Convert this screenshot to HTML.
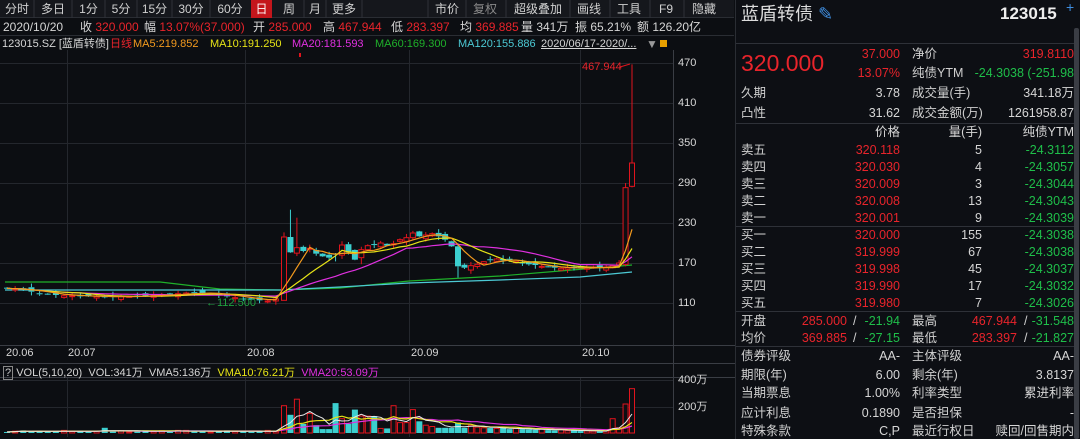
<!DOCTYPE html>
<html><head><meta charset="utf-8"><style>
*{margin:0;padding:0;box-sizing:border-box}
body{width:1080px;height:439px;background:#0c0e12;font-family:"Liberation Sans","Noto Sans CJK SC",sans-serif;color:#c8c8c8;overflow:hidden;position:relative;font-size:12px}
.a{position:absolute;white-space:nowrap;line-height:14px}
.r{color:#e8242b}.g{color:#1fbf4a}.w{color:#d6d6d6}
.tb{position:absolute;top:0;height:18px;line-height:18px;font-size:12px;color:#d0d0d0;text-align:center}
.rt{position:absolute;text-align:right;white-space:nowrap;line-height:14px;font-size:12.5px}
.lb{position:absolute;white-space:nowrap;line-height:14px;font-size:12.5px;color:#d0d0d0}
.lg{font-size:11px}
</style></head><body>
<div style="position:absolute;left:0;top:0;width:734px;height:18px;background:#15171c;border-bottom:1px solid #2a2d33"></div>
<div class="tb" style="left:0;width:34px">分时</div>
<div class="tb" style="left:34px;width:38px">多日</div>
<div class="tb" style="left:72px;width:33px">1分</div>
<div class="tb" style="left:105px;width:32px">5分</div>
<div class="tb" style="left:137px;width:35px">15分</div>
<div class="tb" style="left:172px;width:38px">30分</div>
<div class="tb" style="left:210px;width:40px">60分</div>
<div class="tb" style="left:251px;width:21px;background:#c4161c;color:#fff">日</div>
<div class="tb" style="left:274px;width:30px">周</div>
<div class="tb" style="left:304px;width:22px">月</div>
<div class="tb" style="left:326px;width:36px">更多</div>
<div class="tb" style="left:428px;width:38px">市价</div>
<div class="tb" style="left:466px;width:38px;color:#8a8a8a">复权</div>
<div class="tb" style="left:506px;width:64px">超级叠加</div>
<div class="tb" style="left:570px;width:38px">画线</div>
<div class="tb" style="left:610px;width:38px">工具</div>
<div class="tb" style="left:652px;width:28px">F9</div>
<div class="tb" style="left:684px;width:40px">隐藏</div>
<svg style="position:absolute;left:0;top:0" width="735" height="19">
<g stroke="#2e3138"><line x1="34" y1="0" x2="34" y2="18"/><line x1="72" y1="0" x2="72" y2="18"/><line x1="105" y1="0" x2="105" y2="18"/><line x1="137" y1="0" x2="137" y2="18"/><line x1="172" y1="0" x2="172" y2="18"/><line x1="210" y1="0" x2="210" y2="18"/><line x1="304" y1="0" x2="304" y2="18"/><line x1="326" y1="0" x2="326" y2="18"/><line x1="362" y1="0" x2="362" y2="18"/><line x1="428" y1="0" x2="428" y2="18"/><line x1="466" y1="0" x2="466" y2="18"/><line x1="506" y1="0" x2="506" y2="18"/><line x1="570" y1="0" x2="570" y2="18"/><line x1="610" y1="0" x2="610" y2="18"/><line x1="650" y1="0" x2="650" y2="18"/><line x1="684" y1="0" x2="684" y2="18"/></g></svg>

<div class="a w" style="left:3px;top:20px">2020/10/20</div>
<div class="a w" style="left:80px;top:20px">收 <span class="r">320.000</span></div>
<div class="a w" style="left:144px;top:20px">幅 <span class="r">13.07%(37.000)</span></div>
<div class="a w" style="left:253px;top:20px">开 <span class="r">285.000</span></div>
<div class="a w" style="left:323px;top:20px">高 <span class="r">467.944</span></div>
<div class="a w" style="left:391px;top:20px">低 <span class="r">283.397</span></div>
<div class="a w" style="left:460px;top:20px">均 <span class="r">369.885</span></div>
<div class="a w" style="left:521px;top:20px">量 341万</div>
<div class="a w" style="left:575px;top:20px">振 65.21%</div>
<div class="a w" style="left:637px;top:20px">额 126.20亿</div>
<div style="position:absolute;left:0;top:35px;width:734px;border-top:1px solid #2a2d33"></div>
<div class="a w lg" style="left:2px;top:37px">123015.SZ [蓝盾转债]</div>
<div class="a r lg" style="left:110px;top:37px">日线</div>
<div class="a lg" style="left:133px;top:37px;color:#f39a1e">MA5:219.852</div>
<div class="a lg" style="left:210px;top:37px;color:#e6e317">MA10:191.250</div>
<div class="a lg" style="left:292px;top:37px;color:#e030e0">MA20:181.593</div>
<div class="a lg" style="left:375px;top:37px;color:#1fb02a">MA60:169.300</div>
<div class="a lg" style="left:458px;top:37px;color:#4cc9d4">MA120:155.886</div>
<div class="a w lg" style="left:541px;top:37px;text-decoration:underline">2020/06/17-2020/...</div>
<div class="a" style="left:646px;top:37px;color:#999">▼</div>
<div style="position:absolute;left:660px;top:40px;width:7px;height:7px;background:#e8a000"></div>

<svg id="ch" style="position:absolute;left:0;top:0" width="735" height="439"></svg>

<div class="a w lg" style="left:6px;top:346px">20.06</div>
<div class="a w lg" style="left:68px;top:346px">20.07</div>
<div class="a w lg" style="left:247px;top:346px">20.08</div>
<div class="a w lg" style="left:411px;top:346px">20.09</div>
<div class="a w lg" style="left:582px;top:346px">20.10</div>
<div class="a lg" style="left:3px;top:366px"><span style="border:1px solid #888;padding:0 1px">?</span> <span class="w">VOL(5,10,20)</span>&nbsp; <span class="w">VOL:341万</span>&nbsp; <span class="w">VMA5:136万</span>&nbsp; <span style="color:#e6e317">VMA10:76.21万</span>&nbsp; <span style="color:#e030e0">VMA20:53.09万</span></div>
<div class="a w lg" style="left:678px;top:56px">470</div>
<div class="a w lg" style="left:678px;top:96px">410</div>
<div class="a w lg" style="left:678px;top:136px">350</div>
<div class="a w lg" style="left:678px;top:176px">290</div>
<div class="a w lg" style="left:678px;top:216px">230</div>
<div class="a w lg" style="left:678px;top:256px">170</div>
<div class="a w lg" style="left:678px;top:296px">110</div>
<div class="a w lg" style="left:678px;top:373px">400万</div>
<div class="a w lg" style="left:678px;top:400px">200万</div>
<div class="a r" style="left:582px;top:60px;font-size:11px">467.944</div>
<div class="a" style="left:206px;top:296px;font-size:11px;color:#1fa040">←112.500</div>

<div style="position:absolute;left:735px;top:0;width:345px;height:439px;background:#0d0f14;border-left:1px solid #2a2d33"></div>
<div class="a" style="left:741px;top:3px;font-size:18px;line-height:22px;color:#dcdcdc">蓝盾转债 <span style="color:#3f8ee0">✎</span></div>
<div class="a" style="left:1000px;top:3px;font-size:17px;line-height:22px;color:#eee;font-weight:bold">123015</div>
<div class="a" style="left:1066px;top:0px;color:#3f8ee0;font-size:14px">+</div>
<div style="position:absolute;left:1074px;top:28px;width:5px;height:411px;background:#3a3d44;border-radius:2px"></div>
<div style="position:absolute;left:736px;top:43px;width:338px;border-top:1px solid #2e3138"></div>
<div class="a r" style="left:741px;top:50px;font-size:23px;line-height:26px">320.000</div>
<div class="rt r" style="right:180px;top:47px">37.000</div>
<div class="rt r" style="right:180px;top:66px">13.07%</div>
<div class="lb" style="left:912px;top:47px">净价</div>
<div class="rt r" style="right:6px;top:47px">319.8110</div>
<div class="lb" style="left:912px;top:66px">纯债YTM</div>
<div class="rt g" style="right:6px;top:66px">-24.3038 (-251.98</div>
<div class="lb" style="left:741px;top:86px">久期</div><div class="rt w" style="right:180px;top:86px">3.78</div>
<div class="lb" style="left:912px;top:86px">成交量(手)</div><div class="rt w" style="right:6px;top:86px">341.18万</div>
<div class="lb" style="left:741px;top:106px">凸性</div><div class="rt w" style="right:180px;top:106px">31.62</div>
<div class="lb" style="left:912px;top:106px">成交金额(万)</div><div class="rt w" style="right:6px;top:106px">1261958.87</div>
<div style="position:absolute;left:736px;top:123px;width:338px;border-top:1px solid #2e3138"></div>
<div class="rt w" style="right:180px;top:125px">价格</div>
<div class="rt w" style="right:98px;top:125px">量(手)</div>
<div class="rt w" style="right:6px;top:125px">纯债YTM</div>
<div id="ob"></div>
<div style="position:absolute;left:736px;top:226px;width:338px;border-top:1px solid #2e3138"></div>
<div style="position:absolute;left:736px;top:311px;width:338px;border-top:1px solid #2e3138"></div>
<div class="lb" style="left:741px;top:314px">开盘</div><div class="rt r" style="right:233px;top:314px">285.000</div><div class="lb" style="left:853px;top:314px">/</div><div class="rt g" style="right:180px;top:314px">-21.94</div>
<div class="lb" style="left:912px;top:314px">最高</div><div class="rt r" style="right:63px;top:314px">467.944</div><div class="lb" style="left:1024px;top:314px">/</div><div class="rt g" style="right:6px;top:314px">-31.548</div>
<div class="lb" style="left:741px;top:331px">均价</div><div class="rt r" style="right:233px;top:331px">369.885</div><div class="lb" style="left:853px;top:331px">/</div><div class="rt g" style="right:180px;top:331px">-27.15</div>
<div class="lb" style="left:912px;top:331px">最低</div><div class="rt r" style="right:63px;top:331px">283.397</div><div class="lb" style="left:1024px;top:331px">/</div><div class="rt g" style="right:6px;top:331px">-21.827</div>
<div style="position:absolute;left:736px;top:346px;width:338px;border-top:1px solid #2e3138"></div>
<div class="lb" style="left:741px;top:349px">债券评级</div><div class="rt w" style="right:180px;top:349px">AA-</div><div class="lb" style="left:912px;top:349px">主体评级</div><div class="rt w" style="right:6px;top:349px">AA-</div>
<div class="lb" style="left:741px;top:368px">期限(年)</div><div class="rt w" style="right:180px;top:368px">6.00</div><div class="lb" style="left:912px;top:368px">剩余(年)</div><div class="rt w" style="right:6px;top:368px">3.8137</div>
<div class="lb" style="left:741px;top:386px">当期票息</div><div class="rt w" style="right:180px;top:386px">1.00%</div><div class="lb" style="left:912px;top:386px">利率类型</div><div class="rt w" style="right:6px;top:386px">累进利率</div>
<div class="lb" style="left:741px;top:406px">应计利息</div><div class="rt w" style="right:180px;top:406px">0.1890</div><div class="lb" style="left:912px;top:406px">是否担保</div><div class="rt w" style="right:6px;top:406px">-</div>
<div class="lb" style="left:741px;top:424px">特殊条款</div><div class="rt w" style="right:180px;top:424px">C,P</div><div class="lb" style="left:912px;top:424px">最近行权日</div><div class="rt w" style="right:6px;top:424px">赎回/回售期内</div>

<script>
var ob=[["卖五","320.118","5","-24.3112",143],["卖四","320.030","4","-24.3057",160],["卖三","320.009","3","-24.3044",177],["卖二","320.008","13","-24.3043",194],["卖一","320.001","9","-24.3039",211],
["买一","320.000","155","-24.3038",228],["买二","319.999","67","-24.3038",245],["买三","319.998","45","-24.3037",262],["买四","319.990","17","-24.3032",279],["买五","319.980","7","-24.3026",296]];
var h="";ob.forEach(function(r){h+='<div class="lb" style="left:741px;top:'+r[4]+'px">'+r[0]+'</div><div class="rt r" style="right:180px;top:'+r[4]+'px">'+r[1]+'</div><div class="rt w" style="right:98px;top:'+r[4]+'px">'+r[2]+'</div><div class="rt g" style="right:6px;top:'+r[4]+'px">'+r[3]+'</div>';});
document.getElementById("ob").innerHTML=h;

var c=[132,131,130,127,124,123,122,121,121,120,120,120,119,119,120,120,121,121,122,122,123,124,125,126,125,124,122,120,118,116,115,114,113,116,
209,186,193,188,192,184,180,178,183,197,186,175,190,196,198,200,196,199,205,208,215,210,212,214,210,205,195,165,163,166,168,172,175,176,174,
175,172,170,168,167,165,164,163,162,163,162,163,163,164,163,164,166,170,283,320];
var n=c.length,L=n-1,o=[],hi=[],lo=[];
for(var i=0;i<n;i++){var j=((i*37)%7-3)*1.2;o[i]=i==0?133:c[i-1]+j;var e=((i*13)%5)*1.2+0.8;hi[i]=Math.max(o[i],c[i])+e;lo[i]=Math.min(o[i],c[i])-e;}
o[34]=114;hi[34]=216;o[35]=209;hi[35]=250;hi[36]=238;lo[61]=148;o[L-1]=168;hi[L-1]=290;lo[L-1]=165;o[L]=285;hi[L]=467.944;lo[L]=283.4;o[42]=184;o[46]=178;
var X=function(i){return i<=34?7+i*(277/34):284+(i-34)*(348/(L-34))},Y=function(p){return 303-(p-110)*2/3};
var v=[];for(i=0;i<n;i++)v[i]=8+((i*7)%5)*3;
v[12]=40;v[21]=20;v[29]=12;var vv={34:210,35:140,36:260,37:70,38:150,39:60,40:30,41:30,42:230,43:110,44:70,45:180,46:130,47:130,48:130,49:35,50:35,51:210,52:80,53:80,54:180,55:90,56:60,57:50,58:40,59:40,60:40,61:80,62:40,63:60,64:45,65:40,66:38,67:35,68:40,69:30,70:35,71:30,72:28,73:25,74:30,75:22,76:20,77:25,78:18,79:20,80:15,81:16,82:14,83:14,84:15};
for(var k in vv)v[k]=vv[k];
v[L-3]=110;v[L-2]=40;v[L-1]=223;v[L]=341;
var Vy=function(q){return 433-q*0.13};
var s='';
s+='<g stroke="#24272d" stroke-width="1">';
[63,103,143,183,223,263,303].forEach(function(y){s+='<line x1="0" y1="'+(y+.5)+'" x2="673" y2="'+(y+.5)+'"/>'});
[380,407].forEach(function(y){s+='<line x1="0" y1="'+(y+.5)+'" x2="673" y2="'+(y+.5)+'"/>'});
[67,245,409,580].forEach(function(x){s+='<line x1="'+(x+.5)+'" y1="50" x2="'+(x+.5)+'" y2="345"/><line x1="'+(x+.5)+'" y1="378" x2="'+(x+.5)+'" y2="437"/>'});
s+='</g><g stroke="#3a3d44"><line x1="673.5" y1="50" x2="673.5" y2="439"/><line x1="0" y1="345.5" x2="735" y2="345.5"/><line x1="0" y1="363.5" x2="735" y2="363.5"/><line x1="0" y1="377.5" x2="735" y2="377.5"/></g>';
function ma(a,p){var r=[];for(var i=0;i<a.length;i++){var st=Math.max(0,i-p+1),t=0;for(var q=st;q<=i;q++)t+=a[q];r.push(t/(i-st+1));}return r;}
function pl(a,col,f,w){var pts=a.map(function(p,i){return X(i).toFixed(1)+','+f(p).toFixed(1)}).join(' ');return '<polyline fill="none" stroke="'+col+'" stroke-width="'+(w||1)+'" points="'+pts+'"/>';}
s+='<polyline fill="none" stroke="#1fb02a" stroke-width="1.2" points="5,282 160,282 220,289 280,290 340,288 409,281 500,276 560,271 632,265"/>';
s+='<polyline fill="none" stroke="#4cc9d4" stroke-width="1.2" points="5,290 280,290 340,287 409,283 500,280 580,277 632,272"/>';
for(i=0;i<n;i++){var x=X(i),up=c[i]>=o[i],col=up?'#e0141d':'#3ccfcf';
 var t=Y(Math.max(o[i],c[i])),b=Y(Math.min(o[i],c[i]));if(b-t<1)b=t+1;
 s+='<line x1="'+x+'" y1="'+Y(hi[i])+'" x2="'+x+'" y2="'+t+'" stroke="'+col+'"/><line x1="'+x+'" y1="'+b+'" x2="'+x+'" y2="'+Y(lo[i])+'" stroke="'+col+'"/>';
 s+= up?'<rect x="'+(x-2.5)+'" y="'+t+'" width="5" height="'+(b-t)+'" fill="#0c0e12" stroke="'+col+'"/>':'<rect x="'+(x-3)+'" y="'+t+'" width="6" height="'+(b-t)+'" fill="'+col+'"/>';
 var vt=Vy(v[i]);
 s+= up?'<rect x="'+(x-2.5)+'" y="'+vt+'" width="5" height="'+(433-vt)+'" fill="#0c0e12" stroke="#e0141d"/>':'<rect x="'+(x-3)+'" y="'+vt+'" width="6" height="'+(433-vt)+'" fill="#3ccfcf"/>';
}
s+=pl(ma(c,20),'#e030e0',Y,1.2)+pl(ma(c,10),'#e6e317',Y,1.2)+pl(ma(c,5),'#f39a1e',Y,1.2);
s+=pl(ma(v,20),'#e030e0',Vy,1.2)+pl(ma(v,10),'#e6e317',Vy,1.2)+pl(ma(v,5),'#e8e8e8',Vy,1);
s+='<line x1="620" y1="67" x2="630" y2="64" stroke="#e0141d"/><line x1="300" y1="53" x2="300" y2="57" stroke="#e0141d" stroke-width="2"/>';
document.getElementById("ch").innerHTML=s;
</script>
</body></html>
